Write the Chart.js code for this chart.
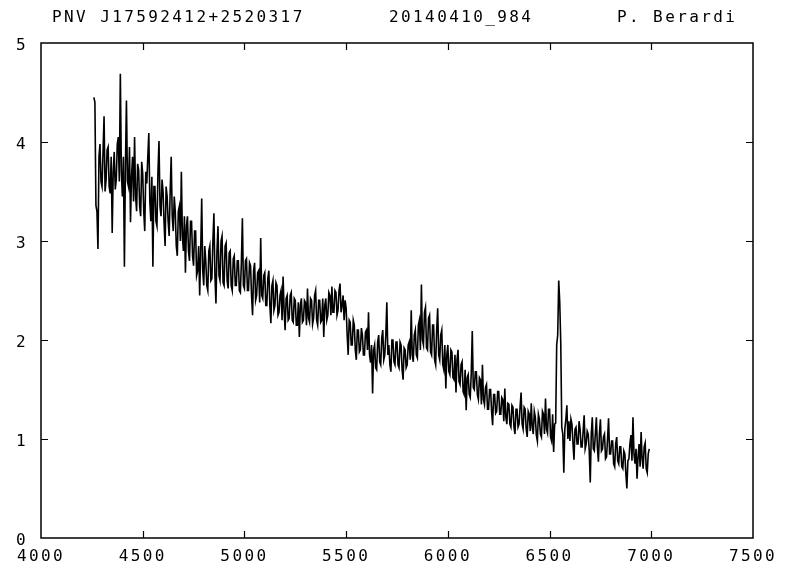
<!DOCTYPE html>
<html>
<head>
<meta charset="utf-8">
<script src="https://cdn.jsdelivr.net/npm/chart.js@4/dist/chart.umd.min.js"></script>
<style>
  html, body { margin: 0; padding: 0; background: #fff; }
  #wrap { width: 792px; height: 578px; }
</style>
</head>
<body>
<div id="wrap"><canvas id="c" width="792" height="578"></canvas></div>
<script>
// Header strings printed above the frame
const headerTexts = ['PNV J17592412+2520317', '20140410_984', 'P. Berardi'];
const headerX = [52, 389, 617];

// Axis ticks
const xTicks = [4000, 4500, 5000, 5500, 6000, 6500, 7000, 7500];
const yTicks = [0, 1, 2, 3, 4, 5];

// Spectrum sampling: wavelength grid (Angstrom)
const lambdaStart = 4260;
const lambdaStep = 5;

// Relative flux, one value per grid step (each row spans 100 A)
const flux = [
  4.45, 4.40, 3.36, 3.30, 2.92, 3.85, 3.98, 3.60, 3.55, 3.90, 4.26, 3.50, 3.62, 3.92, 3.95, 3.55, 3.48, 3.85, 3.08, 3.70,
  3.90, 3.52, 3.62, 3.98, 4.05, 3.60, 4.69, 3.70, 3.45, 3.85, 2.74, 3.75, 4.42, 3.60, 3.55, 3.95, 3.19, 3.65, 3.85, 3.40,
  4.05, 3.45, 3.30, 3.78, 3.72, 3.35, 3.25, 3.80, 3.68, 3.30, 3.10, 3.70, 3.58, 3.85, 4.09, 3.40, 3.20, 3.65, 2.74, 3.55,
  3.55, 3.20, 3.15, 3.70, 4.01, 3.35, 3.25, 3.62, 3.50, 3.18, 2.95, 3.55, 3.45, 3.20, 3.05, 3.50, 3.85, 3.25, 3.10, 3.45,
  3.30, 2.95, 2.85, 3.30, 3.35, 3.00, 3.70, 3.05, 2.90, 3.25, 2.68, 3.15, 3.25, 2.90, 2.80, 3.20, 3.20, 2.85, 2.75, 3.10,
  3.10, 2.65, 2.70, 2.95, 2.45, 2.90, 3.43, 2.70, 2.55, 2.95, 2.80, 2.55, 2.50, 2.90, 2.95, 2.60, 2.62, 3.00, 3.28, 2.65,
  2.37, 2.90, 3.15, 2.65, 2.60, 3.00, 3.05, 2.58, 2.55, 2.95, 2.98, 2.60, 2.52, 2.88, 2.90, 2.55, 2.50, 2.82, 2.85, 2.55,
  2.55, 2.80, 2.80, 2.50, 2.48, 2.78, 3.23, 2.55, 2.52, 2.80, 2.82, 2.50, 2.50, 2.78, 2.75, 2.45, 2.25, 2.70, 2.78, 2.40,
  2.45, 2.68, 2.70, 2.38, 3.03, 2.45, 2.42, 2.65, 2.68, 2.35, 2.35, 2.62, 2.70, 2.35, 2.17, 2.55, 2.60, 2.30, 2.35, 2.58,
  2.55, 2.25, 2.28, 2.45, 2.50, 2.20, 2.64, 2.30, 2.10, 2.42, 2.45, 2.20, 2.22, 2.45, 2.48, 2.20, 2.18, 2.42, 2.40, 2.15,
  2.15, 2.38, 2.03, 2.35, 2.42, 2.18, 2.20, 2.40, 2.38, 2.15, 2.52, 2.22, 2.18, 2.42, 2.40, 2.16, 2.22, 2.45, 2.50, 2.20,
  2.15, 2.40, 2.40, 2.18, 2.20, 2.42, 2.03, 2.35, 2.42, 2.20, 2.25, 2.48, 2.45, 2.25, 2.54, 2.28, 2.28, 2.50, 2.48, 2.25,
  2.30, 2.50, 2.57, 2.28, 2.35, 2.45, 2.20, 2.40, 2.32, 2.05, 1.85, 2.20, 2.18, 1.95, 1.95, 2.20, 2.15, 1.90, 1.80, 2.10,
  2.10, 1.88, 1.90, 2.12, 2.05, 1.85, 1.85, 2.08, 2.10, 1.90, 2.28, 1.85, 1.77, 1.95, 1.46, 1.90, 1.95, 1.72, 1.70, 1.98,
  2.05, 1.78, 1.75, 2.02, 2.10, 1.80, 1.85, 2.05, 2.38, 1.85, 1.95, 1.75, 1.68, 2.00, 2.00, 1.78, 1.75, 1.98, 1.98, 1.75,
  1.72, 1.98, 1.95, 1.70, 1.60, 1.92, 1.90, 1.72, 1.75, 1.95, 1.98, 1.80, 2.30, 1.85, 1.78, 2.05, 2.10, 1.85, 1.82, 2.15,
  2.20, 1.90, 2.56, 2.00, 1.95, 2.28, 2.33, 1.92, 1.90, 2.22, 2.25, 1.88, 1.85, 2.15, 2.15, 1.80, 1.75, 2.10, 2.32, 1.85,
  1.80, 2.05, 2.10, 1.75, 1.70, 1.95, 1.51, 1.85, 1.95, 1.68, 1.65, 1.90, 1.88, 1.62, 1.60, 1.85, 1.47, 1.80, 1.90, 1.58,
  1.55, 1.75, 1.78, 1.48, 1.45, 1.70, 1.29, 1.62, 1.65, 1.45, 1.42, 1.66, 2.09, 1.52, 1.50, 1.68, 1.68, 1.45, 1.40, 1.62,
  1.60, 1.35, 1.75, 1.40, 1.35, 1.52, 1.55, 1.30, 1.30, 1.50, 1.50, 1.28, 1.14, 1.45, 1.45, 1.26, 1.28, 1.48, 1.48, 1.25,
  1.25, 1.42, 1.40, 1.18, 1.51, 1.22, 1.15, 1.36, 1.35, 1.15, 1.12, 1.34, 1.32, 1.12, 1.05, 1.30, 1.30, 1.12, 1.15, 1.32,
  1.47, 1.15, 1.10, 1.32, 1.30, 1.10, 1.02, 1.28, 1.25, 1.08, 1.36, 1.12, 1.05, 1.28, 1.22, 1.04, 0.98, 1.25, 1.20, 1.05,
  1.02, 1.28, 1.25, 1.05, 1.41, 1.10, 1.06, 1.30, 1.30, 1.02, 0.98, 1.25, 0.87, 1.15, 1.16, 1.95, 2.05, 2.60, 2.38, 1.97,
  1.12, 1.05, 0.66, 1.10, 1.20, 1.34, 1.00, 1.18, 0.98, 1.20, 1.15, 0.96, 0.79, 1.10, 1.12, 0.95, 0.95, 1.18, 1.10, 0.92,
  0.92, 1.08, 1.24, 0.90, 0.95, 1.08, 1.05, 0.88, 0.56, 1.05, 1.22, 0.90, 0.88, 1.05, 1.22, 0.92, 0.77, 1.05, 1.20, 0.88,
  0.90, 1.02, 1.05, 0.80, 0.82, 1.00, 1.21, 0.85, 0.85, 0.98, 0.98, 0.75, 0.72, 0.95, 1.02, 0.78, 0.75, 0.92, 0.92, 0.72,
  0.70, 0.88, 0.85, 0.65, 0.50, 0.78, 0.80, 0.95, 1.04, 0.78, 1.22, 0.85, 0.75, 0.90, 0.60, 0.82, 0.95, 0.72, 1.07, 0.80,
  0.70, 0.92, 0.96, 0.70, 0.66, 0.85, 0.90
];

const points = flux.map((f, i) => ({ x: lambdaStart + i * lambdaStep, y: f }));

const FONT = { family: "'DejaVu Sans Mono', 'Liberation Mono', monospace", size: 16 };
const SPACING = '2.4px';

// Box frame with inward tick marks on all four sides, plus the header line
const framePlugin = {
  id: 'frame',
  beforeLayout(chart) { chart.ctx.letterSpacing = SPACING; },
  beforeDraw(chart) { chart.ctx.letterSpacing = SPACING; },
  afterDraw(chart) {
    const { ctx, chartArea: a, scales } = chart;
    const tick = 7;
    ctx.save();
    ctx.strokeStyle = '#000';
    ctx.lineWidth = 1.5;
    ctx.strokeRect(a.left, a.top, a.right - a.left, a.bottom - a.top);
    ctx.lineWidth = 1.2;
    ctx.beginPath();
    xTicks.slice(1, -1).forEach(v => {
      const px = Math.round(scales.x.getPixelForValue(v)) + 0.5;
      ctx.moveTo(px, a.bottom); ctx.lineTo(px, a.bottom - tick);
      ctx.moveTo(px, a.top); ctx.lineTo(px, a.top + tick);
    });
    yTicks.slice(1, -1).forEach(v => {
      const py = Math.round(scales.y.getPixelForValue(v)) + 0.5;
      ctx.moveTo(a.left, py); ctx.lineTo(a.left + tick, py);
      ctx.moveTo(a.right, py); ctx.lineTo(a.right - tick, py);
    });
    ctx.stroke();

    ctx.fillStyle = '#000';
    ctx.letterSpacing = SPACING;
    ctx.font = `${FONT.size}px ${FONT.family}`;
    ctx.textBaseline = 'middle';
    ctx.textAlign = 'left';
    headerTexts.forEach((t, i) => ctx.fillText(t, headerX[i], 18));
    ctx.restore();
  }
};

new Chart(document.getElementById('c'), {
  type: 'line',
  data: {
    datasets: [{
      data: points,
      borderColor: '#000',
      borderWidth: 1.6,
      pointRadius: 0,
      tension: 0,
      fill: false
    }]
  },
  options: {
    responsive: false,
    devicePixelRatio: 1,
    animation: false,
    layout: { padding: { top: 43, right: 39, left: 0, bottom: 0 } },
    plugins: { legend: { display: false }, tooltip: { enabled: false }, title: { display: false } },
    scales: {
      x: {
        type: 'linear',
        min: 4000, max: 7500,
        afterBuildTicks: s => { s.ticks = xTicks.map(v => ({ value: v })); },
        afterFit: s => { s.height = 40; },
        grid: { display: false, drawTicks: false },
        border: { display: false },
        ticks: { color: '#000', font: FONT, maxRotation: 0, padding: 9, autoSkip: false, callback: v => String(v) }
      },
      y: {
        type: 'linear',
        min: 0, max: 5,
        afterBuildTicks: s => { s.ticks = yTicks.map(v => ({ value: v })); },
        afterFit: s => { s.width = 41; },
        grid: { display: false, drawTicks: false },
        border: { display: false },
        ticks: { color: '#000', font: FONT, padding: 13, labelOffset: 3, autoSkip: false, callback: v => String(v) }
      }
    }
  },
  plugins: [framePlugin]
});
</script>
</body>
</html>
